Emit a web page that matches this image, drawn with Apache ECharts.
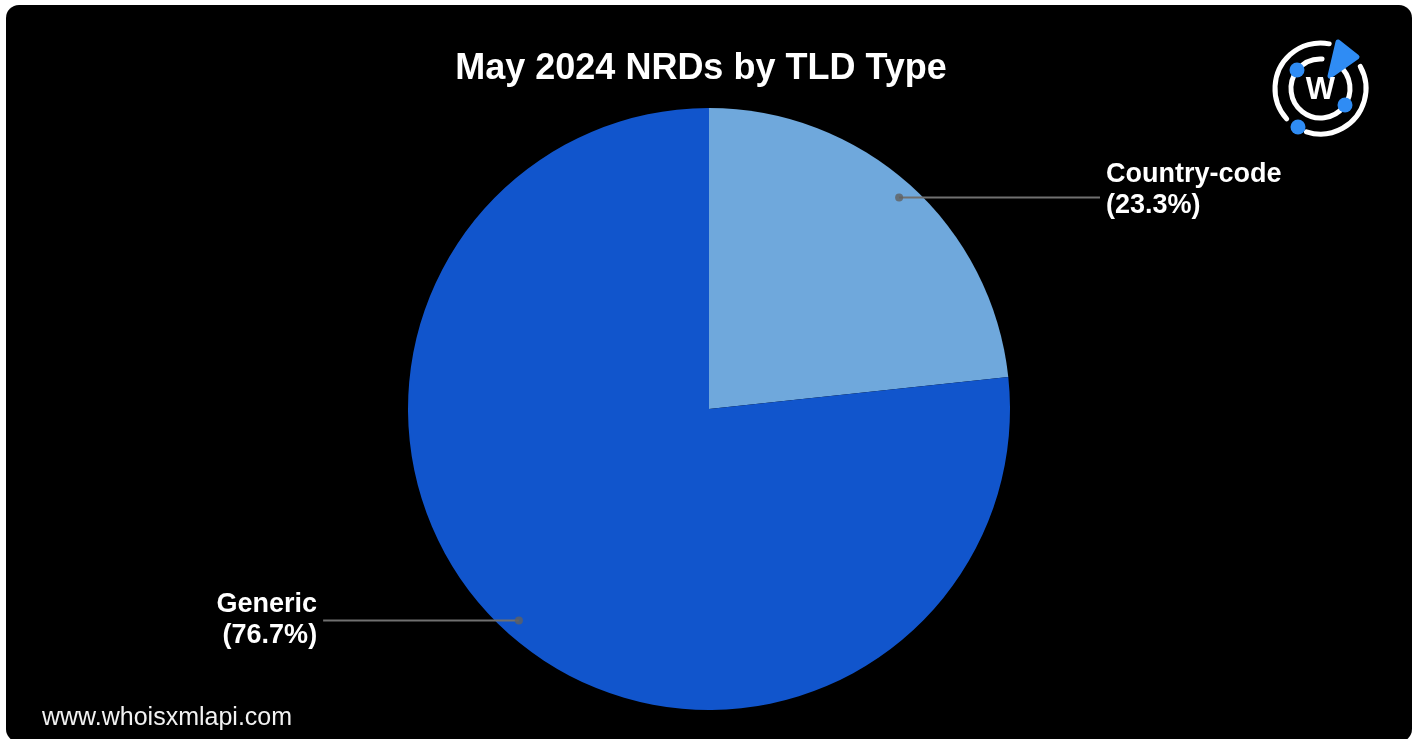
<!DOCTYPE html>
<html>
<head>
<meta charset="utf-8">
<script src="https://cdn.jsdelivr.net/npm/echarts@6/dist/echarts.min.js"></script>
<style>
  html, body { margin: 0; padding: 0; background: #ffffff; }
  #chart { width: 1417px; height: 739px; }
</style>
</head>
<body>
<div id="chart"></div>
<script>
// ---- data ----
const titleText = 'May 2024 NRDs by TLD Type';
const categories = ['Country-code', 'Generic'];
const shares = [23.3, 76.7];
const sliceColors = ['#6FA8DC', '#1155CC'];
const footerText = 'www.whoisxmlapi.com';

// ---- layout ----
const CX = 709, CY = 409, R = 301;
const DOT_FRAC = 0.945;
const LINE_END_RIGHT = 1.299;
const LINE_END_LEFT = 1.282;
const LABEL_SHIFT_RIGHT = -7;
const LABEL_SHIFT_LEFT = -1;
const FONT = 'Helvetica, Arial, "Liberation Sans", sans-serif';
const LOGO_BLUE = '#2F8CF4';
const deg = d => d * Math.PI / 180;

const pieData = categories.map((c, i) => ({ name: c, value: shares[i], itemStyle: { color: sliceColors[i] } }));
const labelData = categories.map((c, i) => ({ name: c, value: shares[i] }));

// anchor dots at the middle of every slice (polar scales matching the pie)
const total = shares.reduce((a, b) => a + b, 0);
let acc = 0;
const dotData = shares.map(v => { const mid = acc + v / 2; acc += v; return [DOT_FRAC, mid / total * 100]; });

const chart = echarts.init(document.getElementById('chart'), null, { renderer: 'canvas' });

const ringStyle = { stroke: '#ffffff', lineWidth: 5, fill: null, lineCap: 'round' };

const option = {
  backgroundColor: 'transparent',
  animation: false,
  polar: { center: [CX, CY], radius: R },
  angleAxis: { type: 'value', min: 0, max: 100, startAngle: 90, clockwise: true, show: false },
  radiusAxis: { type: 'value', min: 0, max: 1, show: false },
  graphic: [
    { type: 'rect', z: -10, silent: true, shape: { x: 6, y: 5, width: 1406, height: 737, r: 13 }, style: { fill: '#000000' } },
    { type: 'text', x: 701, y: 69, style: { text: titleText, fill: '#ffffff', font: 'bold 36px ' + FONT, align: 'center', verticalAlign: 'middle' } },
    { type: 'text', x: 42, y: 718, style: { text: footerText, fill: '#f2f2f2', font: '25px ' + FONT, align: 'left', verticalAlign: 'middle' } },
    // logo
    { type: 'arc', shape: { cx: 1320.5, cy: 88.5, r: 45.5, startAngle: deg(-29), endAngle: deg(108) }, style: ringStyle },
    { type: 'arc', shape: { cx: 1320.5, cy: 88.5, r: 45.5, startAngle: deg(138), endAngle: deg(281) }, style: ringStyle },
    { type: 'arc', shape: { cx: 1320.5, cy: 88.5, r: 29.5, startAngle: deg(-52), endAngle: deg(273) }, style: ringStyle },
    { type: 'polygon', shape: { points: [[1338, 42], [1357, 57], [1330, 76]] }, style: { fill: LOGO_BLUE, stroke: LOGO_BLUE, lineWidth: 5, lineJoin: 'round' } },
    { type: 'circle', shape: { cx: 1298, cy: 127, r: 7.5 }, style: { fill: LOGO_BLUE } },
    { type: 'circle', shape: { cx: 1297, cy: 70, r: 7.5 }, style: { fill: LOGO_BLUE } },
    { type: 'circle', shape: { cx: 1345, cy: 105, r: 7.5 }, style: { fill: LOGO_BLUE } },
    { type: 'text', x: 1320.5, y: 90, style: { text: 'W', fill: '#ffffff', font: 'bold 31px ' + FONT, align: 'center', verticalAlign: 'middle' } }
  ],
  series: [
    {
      type: 'pie',
      z: 2,
      center: [CX, CY],
      radius: R,
      startAngle: 90,
      clockwise: true,
      data: pieData,
      silent: true,
      emphasis: { disabled: true },
      label: { show: false },
      labelLine: { show: false }
    },
    {
      // transparent copy carrying the labels so the guide lines sit above the slices
      type: 'pie',
      z: 4,
      center: [CX, CY],
      radius: R,
      startAngle: 90,
      clockwise: true,
      data: labelData,
      silent: true,
      emphasis: { disabled: true },
      itemStyle: { color: 'rgba(0,0,0,0)' },
      label: {
        show: true,
        position: 'outside',
        formatter: p => '{a|' + p.name + '}\n{a|(' + p.value.toFixed(1) + '%)}',
        rich: { a: { color: '#ffffff', fontSize: 27, fontWeight: 'bold', fontFamily: FONT, lineHeight: 31 } }
      },
      labelLine: { show: true, length: 10, length2: 40, lineStyle: { color: '#707070', width: 2 } },
      labelLayout: function (params) {
        const p0 = params.labelLinePoints ? params.labelLinePoints[0] : null;
        if (!p0) return {};
        const ix = CX + DOT_FRAC * (p0[0] - CX);
        const iy = CY + DOT_FRAC * (p0[1] - CY);
        const right = ix > CX;
        const endX = right ? CX + LINE_END_RIGHT * R : CX - LINE_END_LEFT * R;
        return {
          x: right ? endX + 6 : endX - 6,
          y: iy + (right ? LABEL_SHIFT_RIGHT : LABEL_SHIFT_LEFT),
          align: right ? 'left' : 'right',
          verticalAlign: 'middle',
          labelLinePoints: [[ix, iy], [(ix + endX) / 2, iy], [endX, iy]]
        };
      }
    },
    {
      type: 'scatter',
      coordinateSystem: 'polar',
      data: dotData,
      symbol: 'circle',
      symbolSize: 8,
      silent: true,
      itemStyle: { color: '#606060' },
      z: 6
    }
  ]
};

chart.setOption(option);
</script>
</body>
</html>
